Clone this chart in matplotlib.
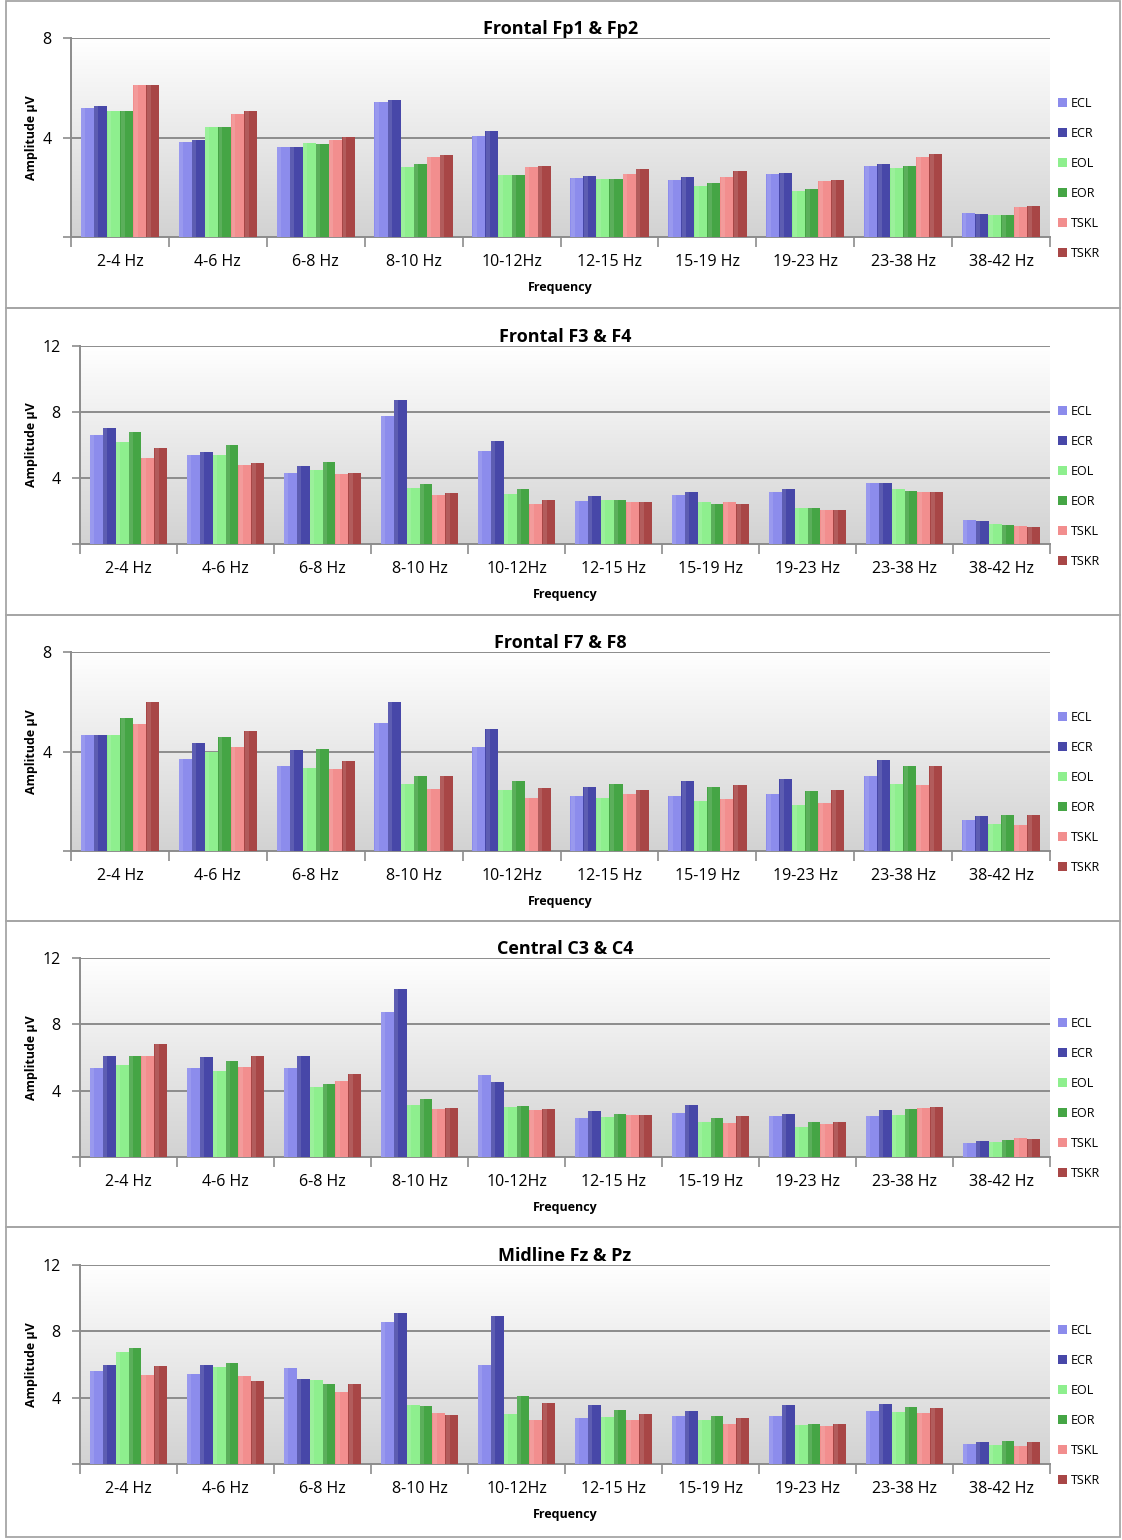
import numpy as np
import matplotlib.pyplot as plt
from matplotlib.patches import Rectangle

# ------------------------------------------------------------
# Data (amplitude in microvolts)
# ------------------------------------------------------------
bands = ["2-4 Hz", "4-6 Hz", "6-8 Hz", "8-10 Hz", "10-12Hz",
         "12-15 Hz", "15-19 Hz", "19-23 Hz", "23-38 Hz", "38-42 Hz"]
series = ["ECL", "ECR", "EOL", "EOR", "TSKL", "TSKR"]

fp_ecl = [5.19, 3.81, 3.61, 5.43, 4.05, 2.39, 2.31, 2.55, 2.84, 0.97]
fp_ecr = [5.27, 3.89, 3.61, 5.51, 4.26, 2.47, 2.43, 2.59, 2.92, 0.93]
fp_eol = [5.07, 4.42, 3.77, 2.80, 2.51, 2.35, 2.07, 1.86, 2.76, 0.89]
fp_eor = [5.07, 4.42, 3.73, 2.92, 2.51, 2.35, 2.19, 1.91, 2.84, 0.89]
fp_tskl = [6.12, 4.95, 3.89, 3.20, 2.80, 2.55, 2.43, 2.27, 3.20, 1.22]
fp_tskr = [6.12, 5.07, 4.01, 3.28, 2.84, 2.72, 2.64, 2.31, 3.32, 1.26]

f34_ecl = [6.62, 5.40, 4.31, 7.77, 5.65, 2.61, 2.98, 3.16, 3.70, 1.46]
f34_ecr = [7.04, 5.59, 4.74, 8.74, 6.26, 2.91, 3.16, 3.34, 3.70, 1.40]
f34_eol = [6.19, 5.40, 4.49, 3.40, 3.04, 2.67, 2.55, 2.19, 3.34, 1.21]
f34_eor = [6.80, 6.01, 4.98, 3.64, 3.34, 2.67, 2.43, 2.19, 3.22, 1.15]
f34_tskl = [5.22, 4.80, 4.25, 2.98, 2.43, 2.55, 2.55, 2.06, 3.16, 1.09]
f34_tskr = [5.83, 4.92, 4.31, 3.10, 2.67, 2.55, 2.43, 2.06, 3.16, 1.03]

f78_ecl = [4.67, 3.69, 3.41, 5.16, 4.18, 2.23, 2.23, 2.31, 3.00, 1.26]
f78_ecr = [4.67, 4.34, 4.06, 5.97, 4.91, 2.56, 2.80, 2.88, 3.65, 1.42]
f78_eol = [4.67, 3.98, 3.33, 2.68, 2.44, 2.15, 1.99, 1.83, 2.68, 1.10]
f78_eor = [5.36, 4.59, 4.10, 3.00, 2.80, 2.68, 2.56, 2.40, 3.41, 1.46]
f78_tskl = [5.11, 4.18, 3.29, 2.48, 2.15, 2.31, 2.11, 1.91, 2.64, 1.06]
f78_tskr = [5.97, 4.83, 3.61, 3.00, 2.52, 2.44, 2.64, 2.44, 3.41, 1.46]

c34_ecl = [5.38, 5.38, 5.38, 8.77, 4.96, 2.36, 2.66, 2.48, 2.48, 0.85]
c34_ecr = [6.11, 6.05, 6.11, 10.16, 4.54, 2.78, 3.15, 2.60, 2.84, 0.97]
c34_eol = [5.56, 5.20, 4.23, 3.15, 3.02, 2.42, 2.12, 1.81, 2.54, 0.91]
c34_eor = [6.11, 5.81, 4.42, 3.51, 3.08, 2.60, 2.36, 2.12, 2.90, 1.03]
c34_tskl = [6.11, 5.44, 4.60, 2.90, 2.84, 2.54, 2.06, 2.00, 2.96, 1.15]
c34_tskr = [6.83, 6.11, 5.02, 2.96, 2.90, 2.54, 2.48, 2.12, 3.02, 1.09]

mz_ecl = [5.58, 5.45, 5.76, 8.55, 6.00, 2.79, 2.91, 2.91, 3.21, 1.21]
mz_ecr = [5.94, 6.00, 5.15, 9.09, 8.91, 3.58, 3.21, 3.58, 3.64, 1.33]
mz_eol = [6.73, 5.82, 5.09, 3.58, 3.03, 2.85, 2.67, 2.36, 3.15, 1.15]
mz_eor = [6.97, 6.12, 4.85, 3.52, 4.12, 3.27, 2.91, 2.42, 3.45, 1.39]
mz_tskl = [5.39, 5.33, 4.36, 3.09, 2.67, 2.67, 2.42, 2.30, 3.09, 1.09]
mz_tskr = [5.88, 5.03, 4.85, 2.97, 3.70, 3.03, 2.79, 2.42, 3.39, 1.33]

colors = ["#8c8cec", "#4747a8", "#8eef8e", "#45a545", "#f28e8e", "#a84646"]

# title, y max, data, plot area in pixels (left, top, bottom), panel box (top, bottom)
panels = [
    ("Frontal Fp1 & Fp2", 8, [fp_ecl, fp_ecr, fp_eol, fp_eor, fp_tskl, fp_tskr], (71, 38, 237), (1, 308)),
    ("Frontal F3 & F4", 12, [f34_ecl, f34_ecr, f34_eol, f34_eor, f34_tskl, f34_tskr], (80, 346, 544), (308, 615)),
    ("Frontal F7 & F8", 8, [f78_ecl, f78_ecr, f78_eol, f78_eor, f78_tskl, f78_tskr], (71, 652, 851), (615, 921)),
    ("Central C3 & C4", 12, [c34_ecl, c34_ecr, c34_eol, c34_eor, c34_tskl, c34_tskr], (80, 958, 1157), (921, 1227)),
    ("Midline Fz & Pz", 12, [mz_ecl, mz_ecr, mz_eol, mz_eor, mz_tskl, mz_tskr], (80, 1265, 1464), (1227, 1537)),
]

W, H = 1122, 1540
RIGHT = 1050
FONT = "Open Sans"

fig = plt.figure(figsize=(W / 100, H / 100), dpi=100)
fig.patch.set_facecolor("white")

x = np.arange(len(bands))
group_w = 0.8
bar_w = group_w / len(series)
bg_cmap = plt.cm.colors.LinearSegmentedColormap.from_list("bg", ["#d2d2d2", "#ffffff"])

for title, ymax, data, (left, top, bottom), (ptop, pbot) in panels:
    # panel frame
    fig.add_artist(Rectangle((6 / W, 1 - pbot / H), (1120 - 6) / W, (pbot - ptop) / H,
                             transform=fig.transFigure, fill=False,
                             edgecolor="#a6a6a6", lw=1.3))

    ax = fig.add_axes([left / W, 1 - bottom / H, (RIGHT - left) / W, (bottom - top) / H])

    # grey-to-white background
    grad = np.linspace(1.0, 0.0, 256).reshape(-1, 1)
    ax.imshow(grad, cmap=bg_cmap, extent=(-0.5, len(bands) - 0.5, 0, ymax),
              aspect="auto", zorder=0, vmin=0, vmax=1)

    for i, (name, vals) in enumerate(zip(series, data)):
        pos = x - group_w / 2 + bar_w * (i + 0.5)
        ax.bar(pos, vals, width=bar_w, color=colors[i], label=name,
               edgecolor="none", zorder=3)
        # soft highlight on the left side of each bar
        ax.bar(pos - bar_w * 0.3, vals, width=bar_w * 0.3, color="white",
               alpha=0.12, edgecolor="none", zorder=4)

    ax.set_xlim(-0.5, len(bands) - 0.5)
    ax.set_ylim(0, ymax)
    ax.set_yticks(np.arange(0, ymax + 1, 4))
    ax.set_yticklabels(["", "4", "8"] if ymax == 8 else ["", "4", "8", "12"],
                       fontsize=11.5, family=FONT)
    for yv in np.arange(4, ymax + 1, 4):
        ax.axhline(yv, color="#8c8c8c", lw=1.4, zorder=1)

    ax.set_xticks(x)
    ax.set_xticklabels(bands, fontsize=11.5, family=FONT)
    ax.set_xticks(np.arange(-0.5, len(bands)), minor=True)
    ax.tick_params(axis="x", which="major", length=0, pad=12)
    ax.tick_params(axis="x", which="minor", length=7, width=1.2, color="#8c8c8c")
    ax.tick_params(axis="y", length=6, width=1.2, color="#8c8c8c", pad=8)

    for side in ["top", "right"]:
        ax.spines[side].set_visible(False)
    for side in ["left", "bottom"]:
        ax.spines[side].set_color("#8c8c8c")
        ax.spines[side].set_linewidth(1.4)

    ax.set_title(title, fontsize=13, fontweight="bold", family=FONT, pad=1)
    ax.set_xlabel("Frequency", fontsize=9, fontweight="bold", family=FONT, labelpad=8)
    ax.set_ylabel("Amplitude µV", fontsize=9, fontweight="bold", family=FONT, labelpad=3)

    ax.legend(loc="upper left", bbox_to_anchor=(1053 / W, 1 - (top + 54) / H),
              bbox_transform=fig.transFigure, frameon=False,
              prop={"family": FONT, "size": 9}, handlelength=0.75,
              handleheight=0.75, handletextpad=0.3, labelspacing=1.36,
              borderaxespad=0)

fig.savefig("out.png", dpi=100)
